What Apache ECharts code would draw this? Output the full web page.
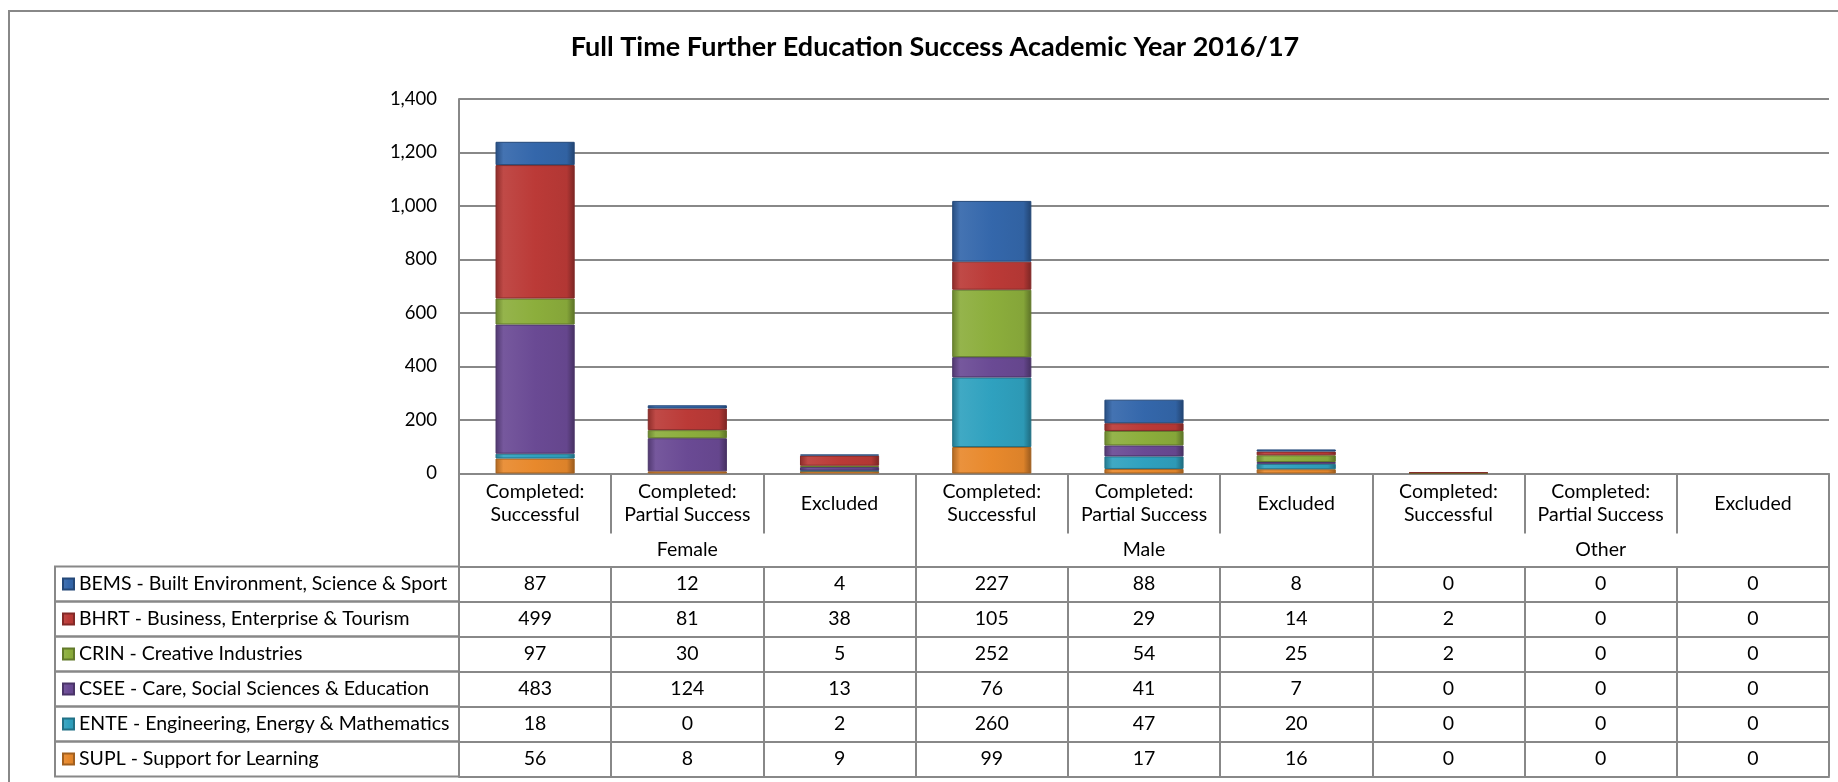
<!DOCTYPE html>
<html>
<head>
<meta charset="utf-8">
<script src="https://cdn.jsdelivr.net/npm/echarts@6/dist/echarts.min.js"></script>
<style>
  html, body { margin: 0; padding: 0; background: #ffffff; }
  #chart { width: 1838px; height: 782px; }
</style>
</head>
<body>
<div id="chart"></div>
<script>
// Outcome categories within each gender group, and the groups themselves
const outcomes = ['Completed:\nSuccessful', 'Completed:\nPartial Success', 'Excluded'];
const genders = ['Female', 'Male', 'Other'];
const categories = genders.flatMap(() => outcomes);

// Value axis ticks
const yMin = 0;
const yMax = 1400;
const yStep = 200;

// Department names (table order, top to bottom)
const departments = [
  'BEMS - Built Environment, Science & Sport',
  'BHRT - Business, Enterprise & Tourism',
  'CRIN - Creative Industries',
  'CSEE - Care, Social Sciences & Education',
  'ENTE - Engineering, Energy & Mathematics',
  'SUPL - Support for Learning'
];

// Learner counts per department, in category order (Female x3, Male x3, Other x3)
const bems = [87, 12, 4, 227, 88, 8, 0, 0, 0];
const bhrt = [499, 81, 38, 105, 29, 14, 2, 0, 0];
const crin = [97, 30, 5, 252, 54, 25, 2, 0, 0];
const csee = [483, 124, 13, 76, 41, 7, 0, 0, 0];
const ente = [18, 0, 2, 260, 47, 20, 0, 0, 0];
const supl = [56, 8, 9, 99, 17, 16, 0, 0, 0];

const tableRows = [bems, bhrt, crin, csee, ente, supl];
const deptColors = ['#3467ab', '#bb3a37', '#8cae3c', '#6a4a94', '#2fa1bf', '#e8892c'];

// ---- layout ----
const FONT = 'Lato, "Open Sans", sans-serif';
const LINE = '#888888';
const plotLeft = 459, plotRight = 1829, plotTop = 99, baseY = 473.5;
const labelRowH = 60, groupRowH = 33, rowH = 35;
const legendLeft = 55;
const tableTop = baseY + labelRowH + groupRowH;
const TABLE_FONT = 19.5;

function shade(hex, f) {
  const n = parseInt(hex.slice(1), 16);
  const ch = [(n >> 16) & 255, (n >> 8) & 255, n & 255].map(c =>
    Math.max(0, Math.min(255, Math.round(f < 0 ? c * (1 + f) : c + (255 - c) * f))));
  return 'rgb(' + ch.join(',') + ')';
}

function bevel(hex) {
  return new echarts.graphic.LinearGradient(0, 0, 1, 0, [
    { offset: 0, color: shade(hex, -0.25) },
    { offset: 0.1, color: shade(hex, 0.08) },
    { offset: 0.5, color: hex },
    { offset: 0.9, color: shade(hex, -0.05) },
    { offset: 1, color: shade(hex, -0.35) }
  ]);
}

const chart = echarts.init(document.getElementById('chart'), null, { renderer: 'canvas' });

const labelStyle = { color: '#000', fontSize: TABLE_FONT, fontFamily: FONT };
const lineStyle = { color: LINE, width: 2 };

const xAxes = [
  {
    type: 'category', data: categories, position: 'bottom', gridIndex: 0,
    axisLine: { show: true, lineStyle },
    axisTick: { show: true, interval: 0, length: labelRowH, lineStyle },
    axisLabel: Object.assign({ interval: 0, margin: labelRowH / 2, verticalAlign: 'middle', lineHeight: 23 }, labelStyle)
  },
  {
    type: 'category', data: genders, position: 'bottom', gridIndex: 0, offset: labelRowH,
    axisLine: { show: false },
    axisTick: { show: true, interval: 0, length: groupRowH, lineStyle },
    axisLabel: Object.assign({ interval: 0, margin: groupRowH / 2, verticalAlign: 'middle' }, labelStyle)
  }
];

tableRows.forEach((row, i) => {
  xAxes.push({
    type: 'category', data: categories, position: 'bottom', gridIndex: 0,
    offset: labelRowH + groupRowH + rowH * i,
    axisLine: { show: true, lineStyle },
    axisTick: { show: true, interval: 0, length: rowH, lineStyle },
    axisLabel: Object.assign({
      interval: 0, margin: rowH / 2, verticalAlign: 'middle',
      formatter: (v, idx) => String(row[idx])
    }, labelStyle)
  });
});

// closing line under the last table row
xAxes.push({
  type: 'category', data: categories, position: 'bottom', gridIndex: 0,
  offset: labelRowH + groupRowH + rowH * tableRows.length,
  axisLine: { show: true, lineStyle },
  axisTick: { show: false },
  axisLabel: { show: false }
});

// stacked bars: first series sits at the bottom of each stack; empty counts draw nothing
const stackOrder = [5, 4, 3, 2, 1, 0];
const series = stackOrder.map(k => ({
  name: departments[k],
  type: 'bar',
  stack: 'total',
  xAxisIndex: 0,
  yAxisIndex: 0,
  barWidth: '52%',
  data: tableRows[k].map(v => (v === 0 ? '-' : v)),
  itemStyle: {
    color: bevel(deptColors[k]),
    borderColor: shade(deptColors[k], -0.3),
    borderWidth: 1
  },
  emphasis: { disabled: true }
}));

const graphics = [
  {
    type: 'rect', silent: true, z: -10,
    shape: { x: 9, y: 11, width: 1900, height: 900 },
    style: { fill: 'none', stroke: LINE, lineWidth: 2 }
  }
];
departments.forEach((d, i) => {
  graphics.push({
    type: 'rect', silent: true,
    shape: { x: legendLeft, y: tableTop + rowH * i, width: plotLeft - legendLeft, height: rowH },
    style: { fill: 'none', stroke: LINE, lineWidth: 2 }
  });
});

chart.setOption({
  backgroundColor: '#ffffff',
  animation: false,
  title: {
    text: 'Full Time Further Education Success Academic Year 2016/17',
    left: 935, top: 34, textAlign: 'center', padding: 0,
    textStyle: { fontSize: 27, fontWeight: 'bold', color: '#000', fontFamily: FONT }
  },
  grid: {
    left: plotLeft, right: 1838 - plotRight, top: plotTop, bottom: 782 - baseY,
    containLabel: false
  },
  legend: {
    orient: 'vertical', left: legendLeft + 7, top: tableTop, padding: 0, itemGap: 0,
    itemWidth: 11, itemHeight: 11, icon: 'rect',
    data: departments,
    textStyle: { color: '#000', fontSize: TABLE_FONT, fontFamily: FONT, lineHeight: rowH }
  },
  tooltip: { show: false },
  xAxis: xAxes,
  yAxis: {
    type: 'value', min: yMin, max: yMax, interval: yStep,
    axisLine: { show: true, lineStyle },
    axisTick: { show: false },
    splitLine: { show: true, lineStyle },
    axisLabel: Object.assign({
      margin: 22,
      formatter: v => v.toLocaleString('en-US')
    }, labelStyle, { fontSize: 18.5 })
  },
  graphic: graphics,
  series
});
</script>
</body>
</html>
